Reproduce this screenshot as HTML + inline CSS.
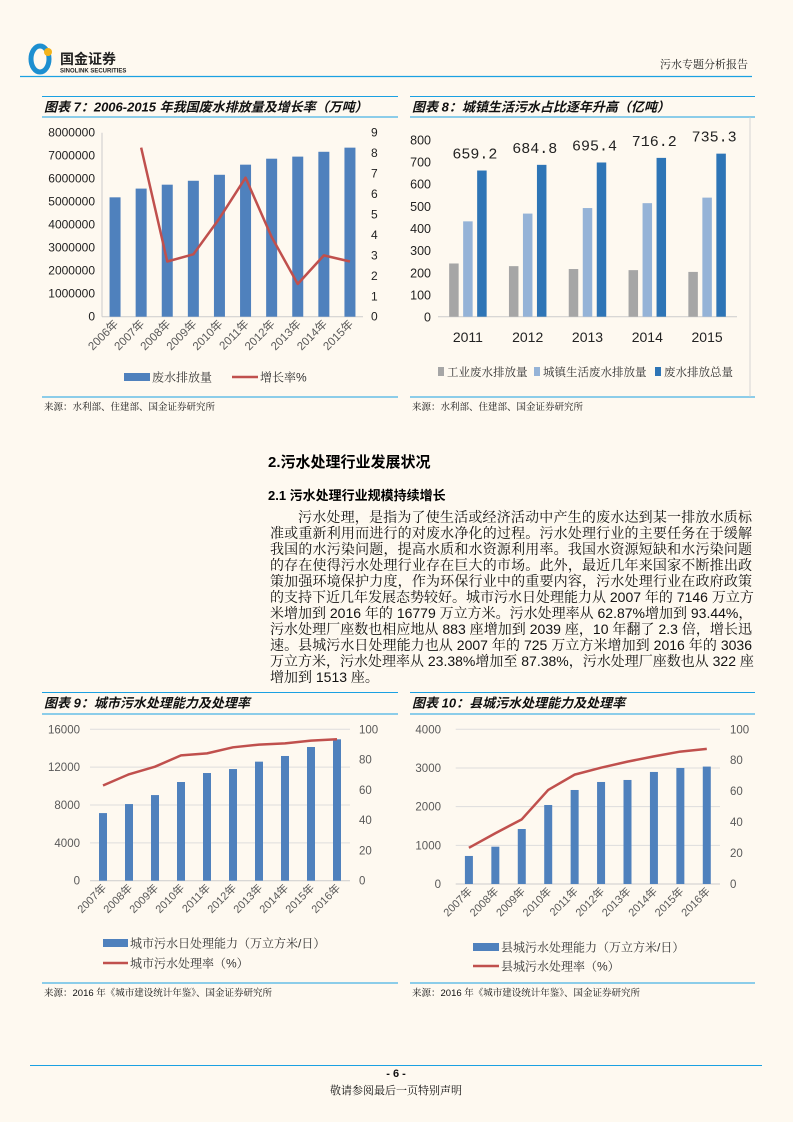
<!DOCTYPE html>
<html><head><meta charset="utf-8">
<style>
html,body{margin:0;padding:0;}
body{width:793px;height:1122px;background:#fef9f0;position:relative;overflow:hidden;font-family:"Liberation Sans","Noto Sans CJK SC",sans-serif;}
svg{position:absolute;left:0;top:0;}
.para{position:absolute;left:270px;top:509px;width:482px;font-family:"Liberation Sans","Noto Serif CJK SC","Noto Sans CJK SC",serif;font-size:14px;color:#111;}
.para div{height:16px;line-height:16px;text-align:justify;text-align-last:justify;white-space:nowrap;}
.para div.last{text-align-last:left;}
.h2{position:absolute;left:268px;top:451px;font-size:15px;font-weight:bold;color:#000;}
.h3{position:absolute;left:268px;top:485px;font-size:13px;font-weight:bold;color:#000;}
</style></head>
<body>
<svg id="page" width="793" height="1122" viewBox="0 0 793 1122"></svg>
<div class="h2">2.污水处理行业发展状况</div>
<div class="h3">2.1 污水处理行业规模持续增长</div>
<div class="para">
<div style="padding-left:28px">污水处理，是指为了使生活或经济活动中产生的废水达到某一排放水质标</div>
<div>准或重新利用而进行的对废水净化的过程。污水处理行业的主要任务在于缓解</div>
<div>我国的水污染问题，提高水质和水资源利用率。我国水资源短缺和水污染问题</div>
<div>的存在使得污水处理行业存在巨大的市场。此外，最近几年来国家不断推出政</div>
<div>策加强环境保护力度，作为环保行业中的重要内容，污水处理行业在政府政策</div>
<div>的支持下近几年发展态势较好。城市污水日处理能力从 2007 年的 7146 万立方</div>
<div>米增加到 2016 年的 16779 万立方米。污水处理率从 62.87%增加到 93.44%，</div>
<div>污水处理厂座数也相应地从 883 座增加到 2039 座，10 年翻了 2.3 倍，增长迅</div>
<div>速。县城污水日处理能力也从 2007 年的 725 万立方米增加到 2016 年的 3036</div>
<div>万立方米，污水处理率从 23.38%增加至 87.38%，污水处理厂座数也从 322 座</div>
<div class="last">增加到 1513 座。</div>
</div>
<script>
// Chart 7 data
const c7Cats=['2006年','2007年','2008年','2009年','2010年','2011年','2012年','2013年','2014年','2015年'];
const c7Bars=[5190000,5570000,5740000,5910000,6170000,6610000,6870000,6960000,7170000,7350000];
const c7Rate=[null,8.27,2.7,3.05,4.81,6.8,3.9,1.6,3.0,2.7];
const c7LeftTicks=[0,1000000,2000000,3000000,4000000,5000000,6000000,7000000,8000000];
const c7RightTicks=[0,1,2,3,4,5,6,7,8,9];
// Chart 8 data
const c8Cats=['2011','2012','2013','2014','2015'];
const c8Ind=[240,228,215,210,202];
const c8Urban=[430,465,490,512,537];
const c8Total=[659.2,684.8,695.4,716.2,735.3];
const c8Ticks=[0,100,200,300,400,500,600,700,800];
// Chart 9 data
const c9Cats=['2007年','2008年','2009年','2010年','2011年','2012年','2013年','2014年','2015年','2016年'];
const c9Bars=[7146,8100,9050,10430,11380,11800,12580,13180,14130,14940];
const c9Rate=[62.87,70.3,75.3,82.8,84.1,88.1,89.9,90.7,92.5,93.44];
const c9LeftTicks=[0,4000,8000,12000,16000];
const c9RightTicks=[0,20,40,60,80,100];
// Chart 10 data
const c10Cats=['2007年','2008年','2009年','2010年','2011年','2012年','2013年','2014年','2015年','2016年'];
const c10Bars=[725,965,1422,2043,2431,2638,2690,2897,3000,3036];
const c10Rate=[23.38,32.8,41.8,60.8,70.7,75.2,79.1,82.5,85.6,87.38];
const c10LeftTicks=[0,1000,2000,3000,4000];
const c10RightTicks=[0,20,40,60,80,100];

const NS='http://www.w3.org/2000/svg';
const svg=document.getElementById('page');
function mk(tag,attrs,parent,text){
  const e=document.createElementNS(NS,tag);
  for(const k in attrs)e.setAttribute(k,attrs[k]);
  if(text!==undefined)e.textContent=text;
  (parent||svg).appendChild(e);return e;
}
const CJK='"Liberation Sans","Noto Sans CJK SC",sans-serif';
const SERIF='"Liberation Sans","Noto Serif CJK SC","Noto Sans CJK SC",serif';
const BLUE='#4f81bd', RED='#c0504d', LINE='#1ba1e2';

// header
const logo=mk('g',{});


mk('ellipse',{cx:40,cy:59,rx:9,ry:13,fill:'none',stroke:'#1d8fd0','stroke-width':5},logo);
mk('circle',{cx:48,cy:52,r:4,fill:'#f2b31b'},logo);
mk('text',{x:60,y:64,'font-size':14,'font-weight':'bold','font-family':CJK,fill:'#222'},logo,'国金证券');
mk('text',{x:60,y:72.5,'font-size':6,'font-weight':'bold','font-family':CJK,fill:'#222'},logo,'SINOLINK SECURITIES');
const rh=mk('text',{x:748,y:68,'text-anchor':'end','font-size':11,'font-family':SERIF,fill:'#222'},svg,'污水专题分析报告');


const hl=mk('line',{x1:20,y1:76.5,x2:752,y2:76.5,stroke:LINE,'stroke-width':1.2});



// frames
function frame(x1,x2,yTop,yT,yBot,title,src,name){
  const g=mk('g',{});
  
  
  mk('line',{x1:x1,y1:yTop,x2:x2,y2:yTop,stroke:LINE,'stroke-width':1},g);
  mk('line',{x1:x1,y1:yT,x2:x2,y2:yT,stroke:LINE,'stroke-width':1},g);
  mk('line',{x1:x1,y1:yBot,x2:x2,y2:yBot,stroke:LINE,'stroke-width':1},g);
  const t=mk('text',{x:x1+2,y:yTop+15,'font-size':13,'font-weight':'bold','font-style':'italic','font-family':CJK,fill:'#111'},g,title);
  
  
  const s=mk('text',{x:x1+2,y:yBot+13,'font-size':9.5,'font-family':SERIF,fill:'#111'},g,src);
  
  
  return g;
}
frame(42,398,96.5,117,397,'图表 7：2006-2015 年我国废水排放量及增长率（万吨）','来源：水利部、住建部、国金证券研究所','chart7-frame');
frame(410,755,96.5,117,397,'图表 8：城镇生活污水占比逐年升高（亿吨）','来源：水利部、住建部、国金证券研究所','chart8-frame');
mk('line',{x1:750,y1:117,x2:750,y2:397,stroke:'#ccc','stroke-width':0.8});
frame(42,398,692.5,714,983,'图表 9：城市污水处理能力及处理率','来源：2016 年《城市建设统计年鉴》、国金证券研究所','chart9-frame');
frame(410,755,692.5,714,983,'图表 10：县城污水处理能力及处理率','来源：2016 年《城市建设统计年鉴》、国金证券研究所','chart10-frame');

// combo chart
function combo(o){
  const g=mk('g',{});
  
  
  const lmax=o.lt[o.lt.length-1], rmax=o.rt[o.rt.length-1];
  const yL=v=>o.y0-(v/lmax)*(o.y0-o.yTop);
  const yR=v=>o.y0-(v/rmax)*(o.y0-o.yTop);
  const n=o.cats.length, step=(o.x1-o.x0)/n;
  const xc=i=>o.x0+step*(i+0.5);
  if(o.grid){o.lt.forEach(t=>{if(t>0){const l=mk('line',{x1:o.x0,y1:yL(t),x2:o.x1,y2:yL(t),stroke:'#ddd','stroke-width':1},g);
    
    }});}
  o.lt.forEach(t=>{const e=mk('text',{x:o.lx,y:yL(t)+4,'text-anchor':'end','font-size':o.fs,'font-family':CJK,fill:o.tc},g,String(t));
    
    });
  o.rt.forEach(t=>{const e=mk('text',{x:o.rx,y:yR(t)+4,'font-size':o.fs,'font-family':CJK,fill:o.tc},g,String(t));
    
    });
  if(o.axisY){const a=mk('line',{x1:o.x0,y1:o.yTop,x2:o.x0,y2:o.y0,stroke:'#ccc'},g);
    
    }
  const ax=mk('line',{x1:o.x0,y1:o.y0,x2:o.x1,y2:o.y0,stroke:'#ccc'},g);
  
  
  o.bars.forEach((v,i)=>{const r=mk('rect',{x:xc(i)-o.bw/2,y:yL(v),width:o.bw,height:o.y0-yL(v),fill:BLUE},g);
    
    });
  let d='';o.rate.forEach((v,i)=>{if(v===null)return;d+=(d?'L':'M')+xc(i)+','+yR(v);});
  const p=mk('path',{d:d,fill:'none',stroke:RED,'stroke-width':2.5,'stroke-linejoin':'round'},g);
  
  
  o.cats.forEach((c,i)=>{const x=xc(i)+4,y=o.y0+8;
    const e=mk('text',{x:x,y:y,'text-anchor':'end','font-size':o.fs-0.5,'font-family':CJK,fill:'#595959',transform:'rotate(-45 '+x+' '+y+')'},g,c);
    
    });
  const lg=o.leg;
  const r=mk('rect',{x:lg.bx,y:lg.by-4,width:lg.bw,height:8,fill:BLUE},g);
  
  
  const t1=mk('text',{x:lg.bx+lg.bw+2,y:lg.by+4.5,'font-size':12,'font-family':SERIF,fill:'#333'},g,lg.t1);
  
  
  const ll=mk('line',{x1:lg.lx,y1:lg.ly,x2:lg.lx+lg.bw,y2:lg.ly,stroke:RED,'stroke-width':2.5},g);
  
  
  const t2=mk('text',{x:lg.lx+lg.bw+2,y:lg.ly+4.5,'font-size':12,'font-family':SERIF,fill:'#333'},g,lg.t2);
  
  
}
combo({name:'chart7',cats:c7Cats,bars:c7Bars,rate:c7Rate,lt:c7LeftTicks,rt:c7RightTicks,x0:102,x1:363,y0:316.7,yTop:132.7,lx:95,rx:371,fs:12,tc:'#222',bw:11,axisY:true,grid:false,
  leg:{bx:124,by:377,bw:26,t1:'废水排放量',lx:232,ly:377,t2:'增长率%'}});
combo({name:'chart9',cats:c9Cats,bars:c9Bars,rate:c9Rate,lt:c9LeftTicks,rt:c9RightTicks,x0:90,x1:350,y0:880.7,yTop:729.3,lx:80,rx:359,fs:11.5,tc:'#595959',bw:8,axisY:false,grid:true,
  leg:{bx:103,by:943,bw:25,t1:'城市污水日处理能力（万立方米/日）',lx:103,ly:963,t2:'城市污水处理率（%）'}});
combo({name:'chart10',cats:c10Cats,bars:c10Bars,rate:c10Rate,lt:c10LeftTicks,rt:c10RightTicks,x0:455.7,x1:720,y0:884,yTop:729.3,lx:441,rx:730,fs:11.5,tc:'#595959',bw:8,axisY:false,grid:true,
  leg:{bx:473,by:947,bw:26,t1:'县城污水处理能力（万立方米/日）',lx:473,ly:966,t2:'县城污水处理率（%）'}});

// chart 8
(function(){
  const g=mk('g',{});
  
  
  const x0=438,x1=737,y0=316.7,yTop=139.3,max=c8Ticks[c8Ticks.length-1];
  const y=v=>y0-(v/max)*(y0-yTop);
  const step=(x1-x0)/c8Cats.length;
  const gc=i=>x0+step*(i+0.5);
  c8Ticks.forEach(t=>{const e=mk('text',{x:431,y:y(t)+5,'text-anchor':'end','font-size':12.5,'font-family':CJK,fill:'#222'},g,String(t));
    
    });
  const ax=mk('line',{x1:x0,y1:y0,x2:x1,y2:y0,stroke:'#ccc'},g);
  
  
  const bw=9.5,off=14;
  const series=[[c8Ind,'#a6a6a6','industrial'],[c8Urban,'#95b3d7','urban'],[c8Total,'#2e75b6','total']];
  c8Cats.forEach((c,i)=>{
    series.forEach((s,k)=>{const v=s[0][i];
      const r=mk('rect',{x:gc(i)+(k-1)*off-bw/2,y:y(v),width:bw,height:y0-y(v),fill:s[1]},g);
      
      });
    const lbl=mk('text',{x:gc(i)+off-7,y:y(c8Total[i])-12,'text-anchor':'middle','font-size':15,'font-family':'"Liberation Mono",monospace',fill:'#222'},g,c8Total[i].toFixed(1));
    
    
    const yl=mk('text',{x:gc(i),y:342,'text-anchor':'middle','font-size':14,'font-family':CJK,fill:'#222'},g,c);
    
    
  });
  const legs=[[438,'#a6a6a6','工业废水排放量'],[534,'#95b3d7','城镇生活废水排放量'],[655,'#2e75b6','废水排放总量']];
  legs.forEach(l=>{const r=mk('rect',{x:l[0],y:367,width:6,height:9,fill:l[1]},g);
    
    
    const t=mk('text',{x:l[0]+9,y:376,'font-size':11.5,'font-family':SERIF,fill:'#333'},g,l[2]);
    
    });
})();

// footer
const fl=mk('line',{x1:30,y1:1065.5,x2:762,y2:1065.5,stroke:LINE,'stroke-width':1});


const pn=mk('text',{x:396,y:1077,'text-anchor':'middle','font-size':11,'font-weight':'bold','font-family':CJK,fill:'#111'},svg,'- 6 -');


const dc=mk('text',{x:396,y:1094,'text-anchor':'middle','font-size':11,'font-family':SERIF,fill:'#111'},svg,'敬请参阅最后一页特别声明');


</script>
</body></html>
